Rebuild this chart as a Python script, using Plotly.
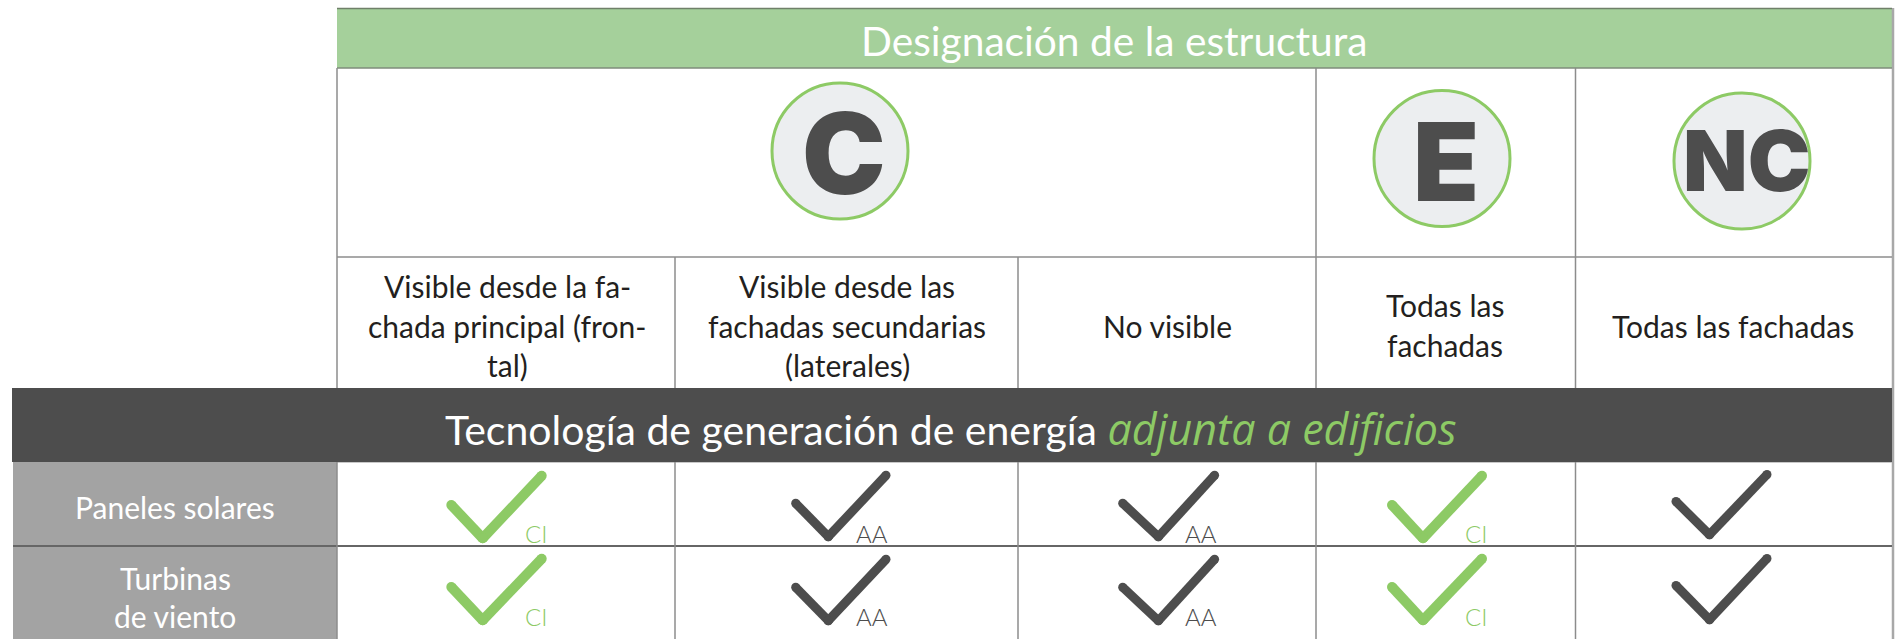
import plotly.graph_objects as go

# ---- content ----
title_top = "Designación de la estructura"
title_band_a = "Tecnología de generación de energía "
title_band_b = "adjunta a edificios"
designations = ["C", "E", "NC"]
col_labels = [
    ["Visible desde la fa-", "chada principal (fron-", "tal)"],
    ["Visible desde las", "fachadas secundarias", "(laterales)"],
    ["No visible"],
    ["Todas las", "fachadas"],
    ["Todas las fachadas"],
]
row_labels = [["Paneles solares"], ["Turbinas", "de viento"]]
check_kind = [["CI", "AA", "AA", "CI", ""], ["CI", "AA", "AA", "CI", ""]]

# ---- layout geometry (pixel scale of the page) ----
W, H = 1896, 639
X = [337, 675, 1018, 1316, 1575.5, 1892]
GREEN, DARK, GREY, LINE = "#8DCA65", "#4D4D4D", "#A3A3A3", "#8C8C8C"
FONT = "Lato"

desig_pos = [(840, 151, 844, 153, 112), (1442, 158.5, 1446, 161, 108), (1742, 161, 1746, 160, 84)]
label_cx = [507, 847, 1167, 1445, 1733]
row_cy = [[507], [578, 616]]
col_line_y = {3: [286, 326, 365], 2: [305, 345], 1: [326]}
tick_x = [(451.3, 482.7, 541.7), (795.7, 828.3, 886), (1122.7, 1158.4, 1214.6), (1392, 1423, 1482), (1676, 1709.5, 1767)]
tick_y = [
    [(505, 538.3, 475.7), (503.3, 536.7, 475.3), (503.3, 536.7, 475.3), (505, 538.3, 475.7), (501.5, 534.7, 474.5)],
    [(587, 620.3, 558.7), (587.3, 620.7, 559.3), (587.3, 620.7, 559.3), (587, 620.3, 558.7), (585.5, 619.7, 558.5)],
]
tag_x = [535.5, 872, 1200.5, 1475.5, 0]
tag_y = [533, 616]

fig = go.Figure()
shapes = []


def rect(x0, y0, x1, y1, color):
    shapes.append(dict(type="rect", x0=x0, y0=y0, x1=x1, y1=y1, fillcolor=color, line_width=0, layer="below"))


def seg(x0, y0, x1, y1, color=LINE, w=1.5):
    shapes.append(dict(type="line", x0=x0, y0=y0, x1=x1, y1=y1, line=dict(color=color, width=w), layer="below"))


rect(X[0], 8.5, X[-1], 68, "#A5D09B")
rect(13, 462, X[0], H, GREY)
seg(X[-1] + 1, 8, X[-1] + 1, H, "#A8A8A8", 2.5)
rect(12, 388, X[-1], 462, DARK)
seg(X[0], 8.5, X[-1], 8.5, "#6F8069", 1.5)
seg(X[0], 68, X[-1], 68, "#7F8C7B", 1.5)
seg(X[0], 257, X[-1], 257)
seg(X[0], 462.5, X[-1], 462.5, "#C8C8C8", 1)
seg(13, 546, X[-1], 546, "#666666", 2)
seg(X[0], 68, X[0], 388)
for x in X[3:5]:
    seg(x, 68, x, 388)
    seg(x, 462, x, H)
for x in X[1:3]:
    seg(x, 257, x, 388)
    seg(x, 462, x, H)
seg(X[0], 462, X[0], H)

# designation discs
fig.add_trace(go.Scatter(
    x=[p[0] for p in desig_pos], y=[p[1] for p in desig_pos], mode="markers",
    marker=dict(size=136, color="#ECEEF0", line=dict(color=GREEN, width=3)),
    hoverinfo="skip", showlegend=False))

# ticks: two separate strokes per tick so the corner stays round
for colour, width, wanted in ((GREEN, 10, lambda k: k == "CI"), (DARK, 9, lambda k: k != "CI")):
    xs, ys = [], []
    for r, kinds in enumerate(check_kind):
        for c, k in enumerate(kinds):
            if wanted(k):
                a, b, d = tick_x[c]
                p, q, s = tick_y[r][c]
                xs += [a, b, None, b, d, None]
                ys += [p, q, None, q, s, None]
    fig.add_trace(go.Scatter(
        x=xs, y=ys, mode="lines+markers",
        line=dict(color=colour, width=width),
        marker=dict(color=colour, size=width, line_width=0),
        hoverinfo="skip", showlegend=False))

ann = []


def text(x, y, s, size, color, family=FONT, **kw):
    ann.append(dict(x=x, y=y, text=s, showarrow=False, xanchor="center", yanchor="middle",
                    font=dict(family=family, size=size, color=color, **kw)))


text(1114, 40, title_top, 40.7, "#FFFFFF", weight=400)
text(951, 428,
     f'{title_band_a}<span style="color:{GREEN};font-family:Open Sans;font-weight:400;font-size:43px"><i>{title_band_b}</i></span>',
     41, "#FFFFFF", weight=400)
for (dx, dy, tx, ty, fs), d in zip(desig_pos, designations):
    text(tx, ty, d, fs, DARK, family="Inter", weight=900)
for cx, lines in zip(label_cx, col_labels):
    for y, s in zip(col_line_y[len(lines)], lines):
        text(cx, y, s, 30, "#231F20")
for ys, lines in zip(row_cy, row_labels):
    for y, s in zip(ys, lines):
        text(175, y, s, 30, "#FFFFFF", weight=400)
for r, kinds in enumerate(check_kind):
    for c, k in enumerate(kinds):
        if k:
            text(tag_x[c], tag_y[r], k, 24, GREEN if k == "CI" else DARK, weight=300)

fig.update_layout(
    width=W, height=H, margin=dict(l=0, r=0, t=0, b=0),
    paper_bgcolor="white", plot_bgcolor="white", shapes=shapes, annotations=ann,
    xaxis=dict(range=[0, W], visible=False, fixedrange=True),
    yaxis=dict(range=[H, 0], visible=False, fixedrange=True),
)
fig.write_html(
    "out.html",
    config=dict(displayModeBar=False),
    default_width=f"{W}px",
    default_height=f"{H}px",
    post_script="document.body.style.margin='0';document.documentElement.style.overflow='hidden';",
)
